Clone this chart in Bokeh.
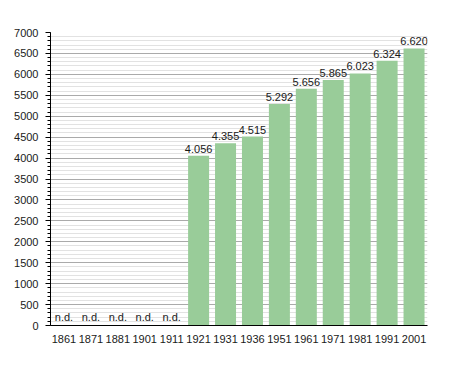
from bokeh.plotting import figure
from bokeh.models import ColumnDataSource, Range1d, FactorRange, Label, SingleIntervalTicker
from bokeh.embed import file_html
from bokeh.resources import INLINE
from bokeh.core.properties import value

years = ["1861", "1871", "1881", "1901", "1911", "1921", "1931", "1936",
         "1951", "1961", "1971", "1981", "1991", "2001"]
population = [0, 0, 0, 0, 0, 4056, 4355, 4515, 5292, 5656, 5865, 6023, 6324, 6620]
labels = ["n.d.", "n.d.", "n.d.", "n.d.", "n.d.", "4.056", "4.355", "4.515",
          "5.292", "5.656", "5.865", "6.023", "6.324", "6.620"]
footnote = "По данным  ISTAT"

FONT = "Liberation Sans"

src = ColumnDataSource(dict(x=years, top=population, label=labels))

p = figure(x_range=FactorRange(*years, range_padding=0), y_range=Range1d(0, 7000),
           width=450, height=370, output_backend="svg", toolbar_location=None,
           min_border_left=50, min_border_right=23, min_border_top=32, min_border_bottom=45)
p.outline_line_color = None
p.background_fill_color = "white"

p.vbar(x="x", top="top", width=0.78, source=src, fill_color="#99cc99", line_color=None)

p.text(x="x", y="top", text="label", source=src, text_align="center",
       text_baseline="bottom", y_offset=-3, text_font=value(FONT),
       text_font_size="11px", text_color="#1a1a1a")

p.yaxis.ticker = SingleIntervalTicker(interval=500, num_minor_ticks=5)
p.yaxis.major_tick_out = 5
p.yaxis.major_tick_in = 0
p.yaxis.minor_tick_out = 3
p.yaxis.minor_tick_in = 0
p.yaxis.axis_line_color = "black"
p.yaxis.major_tick_line_color = "black"
p.yaxis.minor_tick_line_color = "black"
p.yaxis.major_label_text_font = FONT
p.yaxis.major_label_text_font_size = "11px"
p.yaxis.major_label_text_color = "#1a1a1a"
p.yaxis.major_label_standoff = 7

p.xaxis.major_tick_line_color = None
p.xaxis.minor_tick_line_color = None
p.xaxis.axis_line_color = "black"
p.xaxis.major_label_text_font = FONT
p.xaxis.major_label_text_font_size = "11px"
p.xaxis.major_label_text_color = "#1a1a1a"
p.xaxis.major_label_standoff = 3

p.xgrid.grid_line_color = None
p.ygrid.grid_line_color = "#aaaaaa"
p.ygrid.minor_grid_line_color = "#e2e2e2"
p.ygrid.level = "underlay"

p.add_layout(Label(x=-30, y=-37, x_units="screen", y_units="screen", text=footnote,
                   text_font=FONT, text_font_size="11px", text_color="#1a1a1a",
                   text_baseline="middle"))

open("out.html", "w").write(file_html(p, INLINE))
